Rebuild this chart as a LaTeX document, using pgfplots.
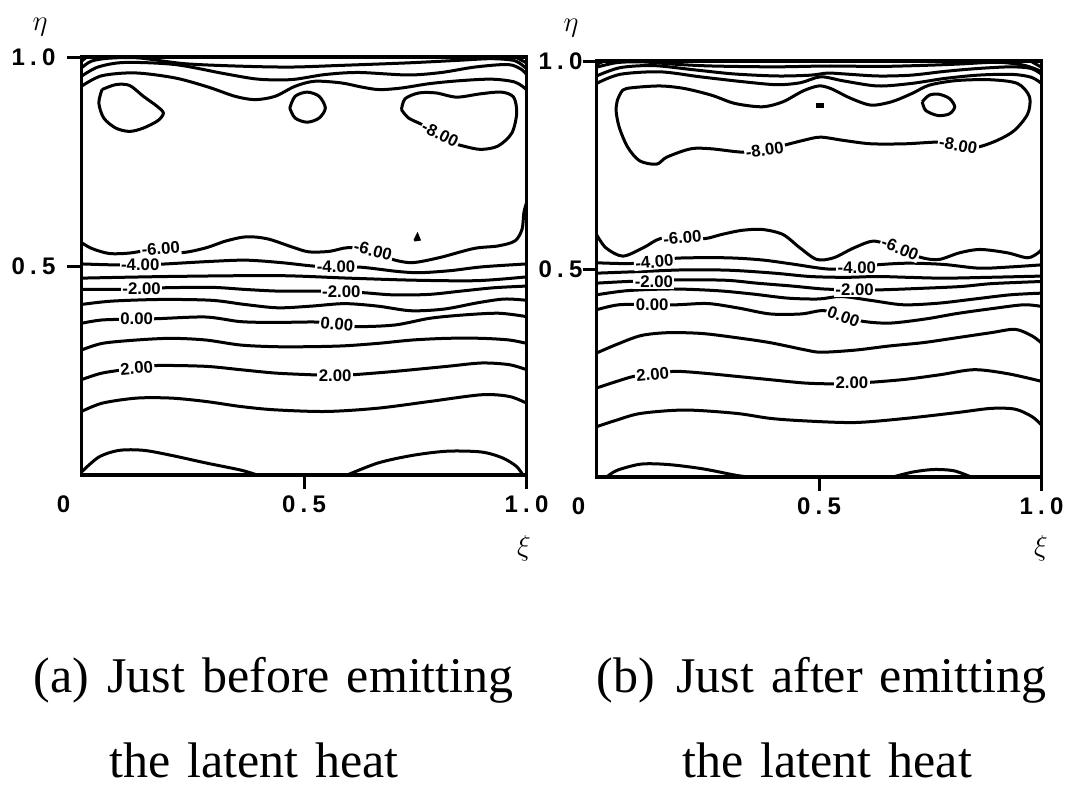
\documentclass[border=0pt]{standalone}
\usepackage{fontspec}
\usepackage{pgfplots}
\pgfplotsset{compat=1.18}

\newfontfamily\capfam{Liberation Serif}[WordSpace=1.36]
\newfontfamily\sansfam{Liberation Sans}
\newcommand\capfont{\capfam\fontsize{25}{29}\selectfont}
\newcommand\tickfont{\sansfam\bfseries\fontsize{12}{12}\selectfont}
\newcommand\labfont{\sansfam\bfseries\fontsize{8.4}{8.4}\selectfont}
\newcommand\dotnum[2]{#1\hspace{2.6pt}.\hspace{2.6pt}#2}

\pgfplotsset{
  panel/.style={
    scale only axis, width=222.5pt,
    xmin=0, xmax=1, ymin=0, ymax=1,
    axis line style={line width=1.6pt},
    tick align=outside, major tick length=7pt,
    tick style={line width=1.5pt, black},
    xtick={0.5,1}, ytick={0.5,1},
    xticklabels={\dotnum{0}{5},\dotnum{1}{0}},
    yticklabels={\dotnum{0}{5},\dotnum{1}{0}},
    extra x ticks={0}, extra x tick labels={0},
    extra x tick style={tick style={draw=none}, xticklabel style={xshift=-9pt}},
    xtick pos=left, ytick pos=left,
    tick label style={font=\tickfont},
  },
  cl/.style={black, line width=1.5pt, smooth, tension=0.5},
}
\tikzset{clab/.style={font=\labfont, fill=white, inner sep=0.7pt}}

\begin{document}
\begin{tikzpicture}[x=0.5pt, y=-0.5pt]
\useasboundingbox (0,0) rectangle (1066,789);

% ---------------- (a) just before emitting the latent heat ----------------
\begin{axis}[panel, at={(40.75pt,-237.5pt)}, anchor=south west, height=209pt,
  yticklabel style={xshift=-2.5pt}]
% near the upper wall
\addplot[cl] coordinates {(0,0.974) (0.022,0.99) (0.06,0.997) (0.127,0.998) (0.232,0.984) (0.36,0.978) (0.472,0.976) (0.584,0.98) (0.734,0.986) (0.846,0.992) (0.921,0.996) (0.974,0.991) (1,0.972)};
\addplot[cl] coordinates {(0,0.99) (0.012,1)};
\addplot[cl] coordinates {(0.975,1) (1,0.986)};
\addplot[cl] coordinates {(0,0.954) (0.037,0.976) (0.097,0.987) (0.21,0.982) (0.322,0.96) (0.397,0.947) (0.472,0.946) (0.547,0.958) (0.622,0.963) (0.734,0.957) (0.809,0.963) (0.884,0.976) (0.959,0.982) (0.989,0.97) (1,0.958)};
\addplot[cl] coordinates {(0,0.93) (0.045,0.955) (0.12,0.962) (0.21,0.95) (0.285,0.928) (0.345,0.906) (0.39,0.898) (0.435,0.906) (0.48,0.93) (0.524,0.942) (0.584,0.938) (0.63,0.928) (0.67,0.922) (0.72,0.926) (0.78,0.936) (0.846,0.943) (0.921,0.947) (0.974,0.94) (1,0.922)};
% closed -8 cells
\addplot[cl] coordinates {(0.046,0.922) (0.077,0.934) (0.108,0.932) (0.139,0.906) (0.17,0.882) (0.184,0.866) (0.172,0.848) (0.139,0.83) (0.108,0.822) (0.077,0.83) (0.05,0.854) (0.039,0.89) (0.046,0.922)};
\addplot[cl] coordinates {(0.468,0.878) (0.48,0.906) (0.507,0.916) (0.534,0.906) (0.548,0.878) (0.534,0.854) (0.507,0.844) (0.48,0.854) (0.468,0.878)};
\addplot[cl] coordinates {(0.719,0.874) (0.727,0.9) (0.758,0.914) (0.797,0.914) (0.843,0.904) (0.897,0.912) (0.944,0.916) (0.971,0.904) (0.978,0.866) (0.967,0.818) (0.936,0.787) (0.897,0.779) (0.858,0.787) (0.835,0.795) (0.804,0.815) (0.766,0.838) (0.735,0.854) (0.719,0.874)};
\addplot[black, line width=1pt, fill=black] coordinates {(0.748,0.561) (0.76,0.563) (0.755,0.576) (0.748,0.561)};
% -6 ... 4
\addplot[cl] coordinates {(0,0.556) (0.023,0.542) (0.062,0.53) (0.108,0.531) (0.174,0.541) (0.224,0.532) (0.278,0.543) (0.325,0.56) (0.371,0.57) (0.418,0.565) (0.472,0.546) (0.51,0.534) (0.557,0.535) (0.6,0.544) (0.655,0.536) (0.695,0.517) (0.742,0.508) (0.804,0.52) (0.882,0.542) (0.936,0.548) (0.974,0.56) (0.99,0.588) (0.994,0.627) (1,0.651)};
\addplot[cl] coordinates {(0,0.505) (0.06,0.503) (0.135,0.502) (0.19,0.505) (0.29,0.511) (0.37,0.514) (0.45,0.508) (0.52,0.5) (0.575,0.498) (0.63,0.497) (0.71,0.487) (0.76,0.484) (0.83,0.489) (0.9,0.498) (1,0.505)};
\addplot[cl] coordinates {(0,0.471) (0.2,0.475) (0.44,0.477) (0.6,0.471) (0.75,0.466) (0.89,0.465) (1,0.474)};
\addplot[cl] coordinates {(0,0.444) (0.083,0.444) (0.135,0.446) (0.188,0.448) (0.292,0.449) (0.367,0.444) (0.441,0.44) (0.516,0.44) (0.584,0.439) (0.636,0.436) (0.7,0.431) (0.78,0.432) (0.853,0.44) (0.927,0.448) (1,0.452)};
\addplot[cl] coordinates {(0,0.408) (0.068,0.416) (0.18,0.42) (0.292,0.418) (0.367,0.408) (0.441,0.4) (0.516,0.404) (0.591,0.41) (0.666,0.404) (0.74,0.393) (0.815,0.397) (0.89,0.412) (0.95,0.421) (1,0.418)};
\addplot[cl] coordinates {(0,0.363) (0.047,0.371) (0.124,0.373) (0.171,0.374) (0.279,0.378) (0.357,0.367) (0.434,0.365) (0.527,0.366) (0.574,0.361) (0.62,0.355) (0.705,0.359) (0.783,0.375) (0.86,0.383) (0.938,0.387) (1,0.379)};
\addplot[cl] coordinates {(0,0.299) (0.047,0.315) (0.124,0.323) (0.202,0.327) (0.279,0.323) (0.357,0.311) (0.434,0.307) (0.512,0.307) (0.589,0.309) (0.667,0.315) (0.744,0.323) (0.822,0.327) (0.899,0.327) (0.961,0.323) (1,0.315)};
\addplot[cl] coordinates {(0,0.228) (0.047,0.244) (0.124,0.256) (0.171,0.262) (0.279,0.26) (0.357,0.252) (0.434,0.244) (0.512,0.24) (0.57,0.238) (0.612,0.24) (0.705,0.248) (0.822,0.26) (0.899,0.268) (0.961,0.264) (1,0.252)};
\addplot[cl] coordinates {(0,0.152) (0.047,0.172) (0.124,0.184) (0.202,0.184) (0.279,0.176) (0.357,0.164) (0.434,0.156) (0.55,0.152) (0.667,0.16) (0.783,0.176) (0.899,0.192) (0.961,0.188) (1,0.172)};
\addplot[cl] coordinates {(0,0.007) (0.039,0.043) (0.085,0.059) (0.14,0.059) (0.202,0.047) (0.279,0.029) (0.357,0.012) (0.395,0)};
\addplot[cl] coordinates {(0.597,0) (0.667,0.029) (0.744,0.047) (0.822,0.057) (0.899,0.055) (0.946,0.041) (0.977,0.021) (0.992,0)};
% contour values
\node[clab, rotate=-27] at (0.806,0.815) {-8.00};
\node[clab, rotate=4]   at (0.178,0.541) {-6.00};
\node[clab, rotate=-14] at (0.655,0.537) {-6.00};
\node[clab] at (0.132,0.502) {-4.00};
\node[clab] at (0.572,0.498) {-4.00};
\node[clab] at (0.135,0.446) {-2.00};
\node[clab] at (0.584,0.439) {-2.00};
\node[clab] at (0.124,0.373) {0.00};
\node[clab, rotate=-5] at (0.574,0.361) {0.00};
\node[clab, rotate=5] at (0.124,0.256) {2.00};
\node[clab] at (0.570,0.238) {2.00};
\end{axis}

% ---------------- (b) just after emitting the latent heat ----------------
\begin{axis}[panel, at={(298.25pt,-238.5pt)}, anchor=south west, height=208pt,
  yticklabel style={xshift=3.5pt}]
\addplot[cl] coordinates {(0,0.985) (0.045,0.996) (0.1,0.998) (0.18,0.992) (0.26,0.988) (0.4,0.986) (0.52,0.988) (0.64,0.987) (0.75,0.99) (0.82,0.993) (0.9,0.997) (0.96,0.99) (1,0.975)};
\addplot[cl] coordinates {(0,0.992) (0.018,1)};
\addplot[cl] coordinates {(0.975,1) (1,0.985)};
\addplot[cl] coordinates {(0,0.964) (0.053,0.984) (0.128,0.989) (0.218,0.979) (0.308,0.969) (0.406,0.964) (0.481,0.966) (0.519,0.971) (0.556,0.969) (0.632,0.964) (0.707,0.966) (0.782,0.975) (0.857,0.982) (0.932,0.986) (0.977,0.982) (1,0.968)};
\addplot[cl] coordinates {(0,0.946) (0.053,0.968) (0.143,0.974) (0.233,0.962) (0.331,0.95) (0.406,0.943) (0.459,0.948) (0.504,0.962) (0.556,0.952) (0.632,0.94) (0.707,0.946) (0.782,0.958) (0.857,0.966) (0.932,0.968) (0.977,0.961) (1,0.946)};
% large -8 cell
\addplot[cl] coordinates {(0.047,0.906) (0.059,0.93) (0.082,0.936) (0.143,0.94) (0.197,0.934) (0.258,0.918) (0.311,0.898) (0.373,0.89) (0.419,0.902) (0.464,0.928) (0.499,0.94) (0.526,0.934) (0.572,0.91) (0.617,0.894) (0.663,0.902) (0.709,0.922) (0.748,0.942) (0.809,0.953) (0.885,0.955) (0.946,0.946) (0.973,0.914) (0.969,0.873) (0.939,0.833) (0.9,0.809) (0.855,0.793) (0.813,0.797) (0.77,0.805) (0.694,0.801) (0.617,0.801) (0.556,0.809) (0.503,0.817) (0.464,0.809) (0.434,0.801) (0.376,0.786) (0.327,0.781) (0.258,0.789) (0.212,0.789) (0.158,0.769) (0.135,0.752) (0.097,0.76) (0.07,0.793) (0.051,0.841) (0.044,0.881) (0.047,0.906)};
\addplot[black, line width=2.6pt] coordinates {(0.494,0.894) (0.512,0.894)};
\addplot[cl] coordinates {(0.732,0.902) (0.748,0.918) (0.77,0.92) (0.793,0.91) (0.805,0.89) (0.793,0.873) (0.767,0.869) (0.74,0.881) (0.732,0.902)};
% -6 ... 4
\addplot[cl] coordinates {(0,0.583) (0.021,0.551) (0.059,0.531) (0.105,0.551) (0.143,0.573) (0.193,0.575) (0.243,0.573) (0.281,0.583) (0.327,0.593) (0.373,0.595) (0.419,0.583) (0.457,0.551) (0.495,0.523) (0.533,0.527) (0.579,0.551) (0.625,0.567) (0.682,0.547) (0.732,0.527) (0.77,0.523) (0.816,0.539) (0.862,0.547) (0.923,0.539) (0.969,0.527) (0.994,0.54) (1,0.548)};
\addplot[cl] coordinates {(0,0.515) (0.07,0.513) (0.13,0.517) (0.18,0.526) (0.29,0.527) (0.37,0.522) (0.44,0.512) (0.52,0.5) (0.585,0.503) (0.63,0.51) (0.7,0.514) (0.78,0.511) (0.86,0.502) (0.93,0.505) (1,0.51)};
\addplot[cl] coordinates {(0,0.49) (0.1,0.494) (0.2,0.498) (0.3,0.497) (0.4,0.49) (0.48,0.482) (0.56,0.48) (0.63,0.482) (0.7,0.48) (0.78,0.478) (0.88,0.48) (1,0.483)};
\addplot[cl] coordinates {(0,0.466) (0.07,0.47) (0.129,0.471) (0.18,0.474) (0.29,0.473) (0.36,0.466) (0.44,0.459) (0.51,0.452) (0.58,0.45) (0.64,0.45) (0.74,0.454) (0.82,0.458) (0.89,0.465) (1,0.47)};
\addplot[cl] coordinates {(0,0.438) (0.07,0.448) (0.17,0.452) (0.27,0.448) (0.35,0.44) (0.43,0.43) (0.5,0.428) (0.55,0.434) (0.62,0.424) (0.69,0.414) (0.77,0.418) (0.85,0.428) (0.93,0.438) (1,0.442)};
\addplot[cl] coordinates {(0,0.402) (0.05,0.414) (0.125,0.415) (0.18,0.414) (0.25,0.417) (0.32,0.406) (0.39,0.392) (0.46,0.392) (0.51,0.4) (0.555,0.386) (0.6,0.374) (0.66,0.37) (0.74,0.38) (0.81,0.393) (0.89,0.405) (0.96,0.414) (1,0.41)};
\addplot[cl] coordinates {(0,0.298) (0.046,0.319) (0.1,0.34) (0.161,0.347) (0.237,0.345) (0.314,0.335) (0.39,0.323) (0.467,0.306) (0.505,0.3) (0.581,0.305) (0.658,0.315) (0.734,0.323) (0.811,0.335) (0.887,0.347) (0.941,0.355) (0.979,0.339) (1,0.322)};
\addplot[cl] coordinates {(0,0.214) (0.046,0.23) (0.084,0.242) (0.126,0.247) (0.176,0.254) (0.237,0.25) (0.314,0.242) (0.39,0.234) (0.467,0.226) (0.528,0.224) (0.574,0.226) (0.62,0.228) (0.696,0.235) (0.773,0.246) (0.849,0.258) (0.926,0.248) (1,0.23)};
\addplot[cl] coordinates {(0,0.121) (0.046,0.137) (0.1,0.153) (0.199,0.161) (0.314,0.153) (0.39,0.141) (0.467,0.135) (0.581,0.131) (0.696,0.141) (0.811,0.155) (0.887,0.165) (0.941,0.163) (0.979,0.145) (1,0.125)};
\addplot[cl] coordinates {(0.023,0) (0.046,0.016) (0.1,0.031) (0.161,0.03) (0.237,0.02) (0.314,0.004) (0.344,0)};
\addplot[cl] coordinates {(0.666,0) (0.711,0.012) (0.757,0.018) (0.803,0.015) (0.842,0)};
% contour values
\node[clab, rotate=8]   at (0.378,0.786) {-8.00};
\node[clab, rotate=-10] at (0.813,0.797) {-8.00};
\node[clab, rotate=5]   at (0.193,0.575) {-6.00};
\node[clab, rotate=-22] at (0.682,0.549) {-6.00};
\node[clab, rotate=5] at (0.130,0.517) {-4.00};
\node[clab] at (0.585,0.503) {-4.00};
\node[clab] at (0.129,0.470) {-2.00};
\node[clab] at (0.580,0.450) {-2.00};
\node[clab] at (0.125,0.415) {0.00};
\node[clab, rotate=-20] at (0.555,0.386) {0.00};
\node[clab, rotate=5] at (0.126,0.247) {2.00};
\node[clab] at (0.574,0.226) {2.00};
\end{axis}

% axis names
\node[font=\fontsize{14}{14}\selectfont] at (40,27)  {$\eta$};
\node[font=\fontsize{14}{14}\selectfont] at (571,28) {$\eta$};
\node[font=\fontsize{14}{14}\selectfont] at (524,548)  {$\xi$};
\node[font=\fontsize{14}{14}\selectfont] at (1041,548) {$\xi$};

% captions
\begin{scope}[every node/.style={anchor=base west, inner sep=0pt, font=\capfont}]
\node at (33,692)  {(a)};
\node at (107,692) {Just before emitting};
\node at (109,777) {the latent heat};
\node at (596,692) {(b)};
\node at (676,692) {Just after emitting};
\node at (682,777) {the latent heat};
\end{scope}
\end{tikzpicture}
\end{document}
